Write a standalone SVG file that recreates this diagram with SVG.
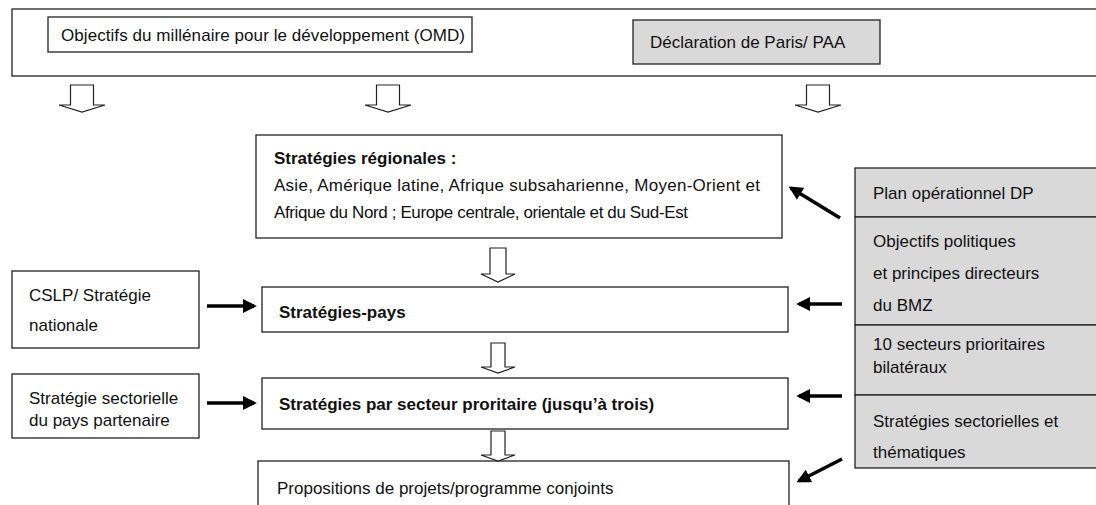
<svg xmlns="http://www.w3.org/2000/svg" width="1096" height="505" viewBox="0 0 1096 505">
<defs>
<style>
.box{fill:#fff;stroke:#222;stroke-width:1.3}
.grey{fill:#d9d9d9;stroke:#222;stroke-width:1.3}
.t{font-family:"Liberation Sans",Arial,sans-serif;font-size:17px;fill:#111}
.b{font-weight:bold}
.hollow{fill:#fff;stroke:#222;stroke-width:1.2}
.arr{stroke:#000;stroke-width:3.5;fill:none;marker-end:url(#ah)}
</style>
<marker id="ah" viewBox="0 0 10 10" refX="8" refY="5" markerWidth="4" markerHeight="4" orient="auto" markerUnits="strokeWidth">
<path d="M0,0 L10,5 L0,10 z" fill="#000"/>
</marker>
</defs>
<rect width="1096" height="505" fill="#fff"/>
<g id="top-band">
<rect class="box" x="12" y="9" width="1100" height="67"/>
</g>
<g id="omd">
<rect class="box" x="48" y="17" width="424" height="35"/>
<text class="t" x="61" y="41" textLength="404" lengthAdjust="spacing">Objectifs du millénaire pour le développement (OMD)</text>
</g>
<g id="paris">
<rect class="grey" x="633" y="20" width="247" height="44"/>
<text class="t" x="650" y="48">Déclaration de Paris/ PAA</text>
</g>
<g id="regional">
<rect class="box" x="256" y="135" width="526" height="103"/>
<text class="t b" x="274" y="164">Stratégies régionales :</text>
<text class="t" x="274" y="191" textLength="486" lengthAdjust="spacing">Asie,  Amérique latine, Afrique subsaharienne, Moyen-Orient et</text>
<text class="t" x="274" y="218" textLength="414" lengthAdjust="spacing">Afrique du Nord ; Europe centrale, orientale et du Sud-Est</text>
</g>
<g id="pays">
<rect class="box" x="262" y="287" width="526" height="45"/>
<text class="t b" x="279" y="318">Stratégies-pays</text>
</g>
<g id="secteur">
<rect class="box" x="262" y="378" width="526" height="51"/>
<text class="t b" x="279" y="410">Stratégies par secteur proritaire (jusqu’à  trois)</text>
</g>
<g id="propositions">
<rect class="box" x="258" y="461" width="531" height="60"/>
<text class="t" x="277" y="494">Propositions de projets/programme conjoints</text>
</g>
<g id="cslp">
<rect class="box" x="12" y="271" width="187" height="77"/>
<text class="t" x="29" y="301">CSLP/ Stratégie</text>
<text class="t" x="29" y="331">nationale</text>
</g>
<g id="sectorielle-pays">
<rect class="box" x="12" y="374" width="187" height="64"/>
<text class="t" x="29" y="404">Stratégie sectorielle</text>
<text class="t" x="29" y="426">du pays partenaire</text>
</g>
<g id="panel">
<rect class="grey" x="855" y="168" width="260" height="49"/>
<text class="t" x="873" y="199">Plan opérationnel DP</text>
<rect class="grey" x="855" y="217" width="260" height="108"/>
<text class="t" x="873" y="247">Objectifs politiques</text>
<text class="t" x="873" y="279">et principes directeurs</text>
<text class="t" x="873" y="311">du BMZ</text>
<rect class="grey" x="855" y="325" width="260" height="70"/>
<text class="t" x="873" y="350">10 secteurs prioritaires</text>
<text class="t" x="873" y="373">bilatéraux</text>
<rect class="grey" x="855" y="395" width="260" height="73"/>
<text class="t" x="873" y="427">Stratégies sectorielles et</text>
<text class="t" x="873" y="458">thématiques</text>
</g>
<g id="connectors">
<path class="hollow" d="M70.5,85 H93.5 V105 H105 L82,112 L59,105 H70.5 Z"/>
<path class="hollow" d="M376.5,85 H399.5 V105 H411 L388,112 L365,105 H376.5 Z"/>
<path class="hollow" d="M806.5,85 H829.5 V105 H841 L818,112 L795,105 H806.5 Z"/>
<path class="hollow" d="M490,248 H506 V274 H515 L498,282 L481,274 H490 Z"/>
<path class="hollow" d="M491,343 H505 V367 H515 L498,373 L481,367 H491 Z"/>
<path class="hollow" d="M491,431 H505 V455 H515 L498,461 L481,455 H491 Z"/>
<line class="arr" x1="207" y1="306" x2="254" y2="306"/>
<line class="arr" x1="207" y1="403" x2="254" y2="403"/>
<line class="arr" x1="842" y1="304" x2="799" y2="304"/>
<line class="arr" x1="842" y1="396" x2="799" y2="396"/>
<line class="arr" x1="842" y1="459" x2="799" y2="481"/>
<line class="arr" x1="840" y1="218" x2="791" y2="188"/>
</g>
</svg>
